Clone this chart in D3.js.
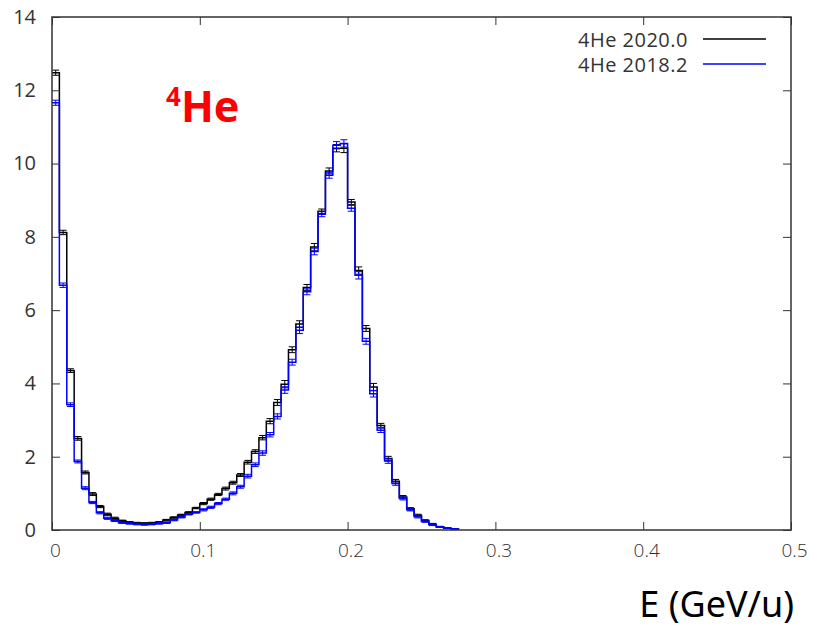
<!DOCTYPE html>
<html>
<head>
<meta charset="utf-8">
<script src="https://cdn.jsdelivr.net/npm/d3@7"></script>
<style>
  html, body { margin: 0; padding: 0; background: #fff; }
  svg { display: block; }
</style>
</head>
<body>
<svg id="chart" width="814" height="629"></svg>
<script>
// ---- data ----
const binStart = [0,0.005,0.01,0.015,0.02,0.025,0.03,0.035,0.04,0.045,
  0.05,0.055,0.06,0.065,0.07,0.075,0.08,0.085,0.09,0.095,
  0.1,0.105,0.11,0.115,0.12,0.125,0.13,0.135,0.14,0.145,
  0.15,0.155,0.16,0.165,0.17,0.175,0.18,0.185,0.19,0.195,
  0.2,0.205,0.21,0.215,0.22,0.225,0.23,0.235,0.24,0.245,
  0.25,0.255,0.26,0.265,0.27];
const binWidth = 0.005;

const he2020 = [12.48,8.12,4.35,2.5,1.57,0.98,0.64,0.43,0.32,0.25,
  0.21,0.19,0.18,0.19,0.21,0.27,0.34,0.41,0.48,0.6,
  0.72,0.84,0.97,1.13,1.29,1.5,1.85,2.14,2.52,2.97,
  3.48,3.98,4.92,5.62,6.62,7.72,8.7,9.8,10.42,10.42,
  8.95,7.08,5.5,3.9,2.85,1.95,1.33,0.9,0.58,0.4,
  0.26,0.16,0.09,0.05,0.03];
const he2020Err = [0.07,0.06,0.05,0.05,0.04,0.04,0.03,0.03,0.03,0.02,
  0.02,0.02,0.02,0.02,0.02,0.02,0.02,0.02,0.02,0.02,
  0.03,0.03,0.03,0.04,0.04,0.04,0.05,0.05,0.06,0.07,
  0.08,0.1,0.08,0.09,0.08,0.1,0.06,0.08,0.1,0.12,
  0.07,0.1,0.08,0.1,0.06,0.06,0.05,0.04,0.03,0.03,
  0.02,0.02,0.01,0.01,0.01];

const he2018 = [11.66,6.68,3.42,1.87,1.14,0.75,0.47,0.32,0.25,0.2,
  0.18,0.16,0.15,0.16,0.18,0.2,0.27,0.35,0.43,0.48,
  0.55,0.62,0.72,0.84,1.0,1.18,1.47,1.78,2.1,2.6,
  3.1,3.82,4.58,5.45,6.5,7.6,8.62,9.68,10.5,10.55,
  8.78,6.95,5.15,3.72,2.72,1.88,1.27,0.86,0.55,0.36,
  0.23,0.14,0.08,0.05,0.03];
const he2018Err = [0.07,0.06,0.05,0.04,0.04,0.03,0.03,0.03,0.02,0.02,
  0.02,0.02,0.02,0.02,0.02,0.02,0.02,0.02,0.02,0.02,
  0.03,0.03,0.03,0.03,0.04,0.04,0.05,0.05,0.06,0.06,
  0.07,0.09,0.08,0.09,0.08,0.09,0.07,0.08,0.1,0.1,
  0.08,0.1,0.08,0.09,0.06,0.06,0.05,0.04,0.03,0.03,
  0.02,0.02,0.01,0.01,0.01];

const xTicks = [0, 0.1, 0.2, 0.3, 0.4, 0.5];
const yTicks = [0, 2, 4, 6, 8, 10, 12, 14];
const seriesNames = ["4He 2020.0", "4He 2018.2"];
const seriesColors = ["#000000", "#0000ff"];

// ---- layout ----
const svg = d3.select("#chart");
const mLeft = 52, mRight = 791, mTop = 17, mBottom = 530;
const x = d3.scaleLinear().domain([0, 0.5]).range([mLeft, mRight]);
const y = d3.scaleLinear().domain([0, 14]).range([mBottom, mTop]);
const axisColor = "#333";
const tickLen = 8;

// histogram series
const series = [
  {vals: he2020, err: he2020Err, color: seriesColors[0]},
  {vals: he2018, err: he2018Err, color: seriesColors[1]}
];

series.forEach(s => {
  const pts = [];
  binStart.forEach((b, i) => {
    pts.push([b, s.vals[i]]);
    pts.push([b + binWidth, s.vals[i]]);
  });
  const last = binStart[binStart.length - 1] + binWidth;
  pts.push([last, 0]);
  const line = d3.line().x(d => x(d[0])).y(d => y(d[1]));
  svg.append("path")
    .attr("d", line(pts))
    .attr("fill", "none")
    .attr("stroke", s.color)
    .attr("stroke-width", 1.5);

  const g = svg.append("g").attr("stroke", s.color).attr("stroke-width", 1);
  binStart.forEach((b, i) => {
    const cx = x(b + binWidth / 2);
    const y1 = y(s.vals[i] - s.err[i]);
    const y2 = y(s.vals[i] + s.err[i]);
    g.append("line").attr("x1", cx).attr("x2", cx).attr("y1", y1).attr("y2", y2);
    g.append("line").attr("x1", cx - 3.5).attr("x2", cx + 3.5).attr("y1", y1).attr("y2", y1);
    g.append("line").attr("x1", cx - 3.5).attr("x2", cx + 3.5).attr("y1", y2).attr("y2", y2);
  });
});

// frame
svg.append("rect")
  .attr("x", mLeft).attr("y", mTop)
  .attr("width", mRight - mLeft).attr("height", mBottom - mTop)
  .attr("fill", "none").attr("stroke", axisColor).attr("stroke-width", 1.5);

// axes via d3
const xAxisB = d3.axisBottom(x).tickValues(xTicks).tickSize(-tickLen).tickPadding(14)
  .tickFormat(d => d === 0 ? "0" : d3.format(".1f")(d));
const gx = svg.append("g").attr("transform", `translate(0,${mBottom})`).call(xAxisB);
gx.select(".domain").remove();
gx.selectAll("line").attr("stroke", axisColor).attr("stroke-width", 1);
gx.selectAll("text").attr("font-family", "'Open Sans', sans-serif").attr("font-weight", 300)
  .attr("font-size", 19).attr("fill", "#333").attr("dx", 3);

const xAxisT = d3.axisTop(x).tickValues(xTicks).tickSize(-tickLen).tickFormat("");
const gxt = svg.append("g").attr("transform", `translate(0,${mTop})`).call(xAxisT);
gxt.select(".domain").remove();
gxt.selectAll("line").attr("stroke", axisColor).attr("stroke-width", 1);

const yAxisL = d3.axisLeft(y).tickValues(yTicks).tickSize(-tickLen).tickPadding(16);
const gy = svg.append("g").attr("transform", `translate(${mLeft},0)`).call(yAxisL);
gy.select(".domain").remove();
gy.selectAll("line").attr("stroke", axisColor).attr("stroke-width", 1);
gy.selectAll("text").attr("font-family", "'Open Sans', sans-serif")
  .attr("font-size", 20).attr("fill", "#333");

const yAxisR = d3.axisRight(y).tickValues(yTicks).tickSize(-tickLen).tickFormat("");
const gyr = svg.append("g").attr("transform", `translate(${mRight},0)`).call(yAxisR);
gyr.select(".domain").remove();
gyr.selectAll("line").attr("stroke", axisColor).attr("stroke-width", 1);

// legend
const legend = svg.append("g");
seriesNames.forEach((name, i) => {
  const ly = 40 + i * 25;
  legend.append("text")
    .attr("x", 688).attr("y", ly + 7)
    .attr("text-anchor", "end")
    .attr("font-family", "'Open Sans', sans-serif")
    .attr("font-size", 20).attr("letter-spacing", 0.5).attr("fill", "#333")
    .text(name);
  legend.append("line")
    .attr("x1", 703).attr("x2", 766).attr("y1", ly - 1).attr("y2", ly - 1)
    .attr("stroke", seriesColors[i]).attr("stroke-width", 1.3);
});

// red isotope label
const lab = svg.append("text")
  .attr("x", 166).attr("y", 122)
  .attr("font-family", "'Noto Sans', sans-serif")
  .attr("font-weight", "bold").attr("fill", "#ff0000");
lab.append("tspan").attr("font-size", 26).attr("dy", -16).text("4");
lab.append("tspan").attr("font-size", 43).attr("dy", 16).text("He");

// x axis title
svg.append("text")
  .attr("x", 794).attr("y", 617)
  .attr("text-anchor", "end")
  .attr("font-family", "'Noto Sans', sans-serif")
  .attr("font-size", 36).attr("fill", "#000")
  .text("E (GeV/u)");
</script>
</body>
</html>
